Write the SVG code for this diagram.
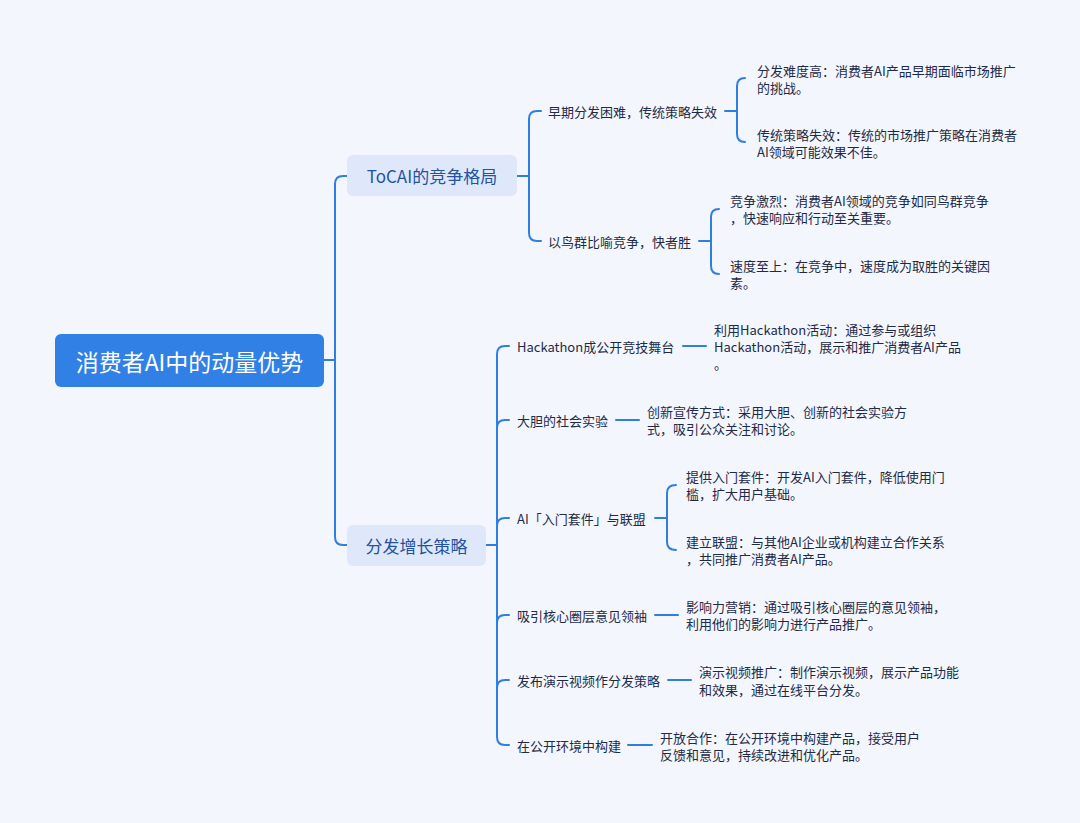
<svg xmlns="http://www.w3.org/2000/svg" width="1080" height="823" viewBox="0 0 1080 823">
<style>
.bg{fill:#f3f6fd}
.ln{fill:none;stroke:#2f7fe0;stroke-width:2;stroke-linecap:round}
.t{font-family:"Noto Sans CJK SC","Noto Sans",sans-serif;fill:#1f2b46;dominant-baseline:central}
.s2{font-size:13px}
.s3{font-size:13px}
.l1box{fill:#dfe8fb}
.l1txt{font-size:17px;fill:#2452a0;text-anchor:middle}
.rootbox{fill:#3180e6}
.roottxt{font-size:23px;fill:#ffffff;text-anchor:middle}
</style>
<rect class="bg" x="0" y="0" width="1080" height="823"/>
<g id="connectors">
<path class="ln" d="M324 360 H335"/>
<path class="ln" d="M347 176 H343 Q335 176 335 184 V537 Q335 545 343 545 H347"/>
<path class="ln" d="M517 176 H529"/>
<path class="ln" d="M541 111 H537 Q529 111 529 119 V233 Q529 241 537 241 H541"/>
<path class="ln" d="M725 111 H737"/>
<path class="ln" d="M745 78 Q737 78 737 86 V134 Q737 142 745 142"/>
<path class="ln" d="M699 241 H711"/>
<path class="ln" d="M719 209 Q711 209 711 217 V266 Q711 274 719 274"/>
<path class="ln" d="M486 545 H497"/>
<path class="ln" d="M509 346 H505 Q497 346 497 354 V737 Q497 745 505 745 H509"/>
<path class="ln" d="M497 428 Q497 420 505 420 H509"/>
<path class="ln" d="M497 526 Q497 518 505 518 H509"/>
<path class="ln" d="M497 623 Q497 615 505 615 H509"/>
<path class="ln" d="M497 688 Q497 680 505 680 H509"/>
<path class="ln" d="M683 346 H706"/>
<path class="ln" d="M616 420 H639"/>
<path class="ln" d="M655 518 H667"/>
<path class="ln" d="M676 485 Q667 485 667 493 V542 Q667 550 676 550"/>
<path class="ln" d="M655 615 H678"/>
<path class="ln" d="M668 680 H691"/>
<path class="ln" d="M628 745 H652"/>
</g>
<g id="root">
<rect class="rootbox" x="55" y="334" width="269" height="53" rx="6"/>
<text class="t roottxt" x="189.5" y="360.5">消费者AI中的动量优势</text>
</g>
<g id="n-tocai">
<rect class="l1box" x="347" y="155" width="170" height="41" rx="6"/>
<text class="t l1txt" x="432" y="175.5">ToCAI的竞争格局</text>
</g>
<g id="n-growth">
<rect class="l1box" x="347" y="525" width="139" height="41" rx="6"/>
<text class="t l1txt" x="416.5" y="545.5">分发增长策略</text>
</g>
<g id="n-early">
<text class="t s2" x="548" y="111">早期分发困难，传统策略失效</text>
</g>
<g id="n-bird">
<text class="t s2" x="548" y="241">以鸟群比喻竞争，快者胜</text>
</g>
<g id="n-early-1">
<text class="t s3" x="757" y="70">分发难度高：消费者AI产品早期面临市场推广</text>
<text class="t s3" x="757" y="87">的挑战。</text>
</g>
<g id="n-early-2">
<text class="t s3" x="757" y="134">传统策略失效：传统的市场推广策略在消费者</text>
<text class="t s3" x="757" y="151">AI领域可能效果不佳。</text>
</g>
<g id="n-bird-1">
<text class="t s3" x="730" y="200">竞争激烈：消费者AI领域的竞争如同鸟群竞争</text>
<text class="t s3" x="730" y="217">，快速响应和行动至关重要。</text>
</g>
<g id="n-bird-2">
<text class="t s3" x="730" y="265">速度至上：在竞争中，速度成为取胜的关键因</text>
<text class="t s3" x="730" y="282">素。</text>
</g>
<g id="n-hack">
<text class="t s2" x="517" y="346">Hackathon成公开竞技舞台</text>
</g>
<g id="n-hack-1">
<text class="t s3" x="714" y="329">利用Hackathon活动：通过参与或组织</text>
<text class="t s3" x="714" y="346">Hackathon活动，展示和推广消费者AI产品</text>
<text class="t s3" x="714" y="363">。</text>
</g>
<g id="n-social">
<text class="t s2" x="517" y="420">大胆的社会实验</text>
</g>
<g id="n-social-1">
<text class="t s3" x="647" y="411">创新宣传方式：采用大胆、创新的社会实验方</text>
<text class="t s3" x="647" y="428">式，吸引公众关注和讨论。</text>
</g>
<g id="n-kit">
<text class="t s2" x="517" y="518">AI「入门套件」与联盟</text>
</g>
<g id="n-kit-1">
<text class="t s3" x="686" y="476">提供入门套件：开发AI入门套件，降低使用门</text>
<text class="t s3" x="686" y="493">槛，扩大用户基础。</text>
</g>
<g id="n-kit-2">
<text class="t s3" x="686" y="541">建立联盟：与其他AI企业或机构建立合作关系</text>
<text class="t s3" x="686" y="558">，共同推广消费者AI产品。</text>
</g>
<g id="n-kol">
<text class="t s2" x="517" y="615">吸引核心圈层意见领袖</text>
</g>
<g id="n-kol-1">
<text class="t s3" x="686" y="606">影响力营销：通过吸引核心圈层的意见领袖，</text>
<text class="t s3" x="686" y="623">利用他们的影响力进行产品推广。</text>
</g>
<g id="n-video">
<text class="t s2" x="517" y="680">发布演示视频作分发策略</text>
</g>
<g id="n-video-1">
<text class="t s3" x="699" y="671">演示视频推广：制作演示视频，展示产品功能</text>
<text class="t s3" x="699" y="689">和效果，通过在线平台分发。</text>
</g>
<g id="n-open">
<text class="t s2" x="517" y="745">在公开环境中构建</text>
</g>
<g id="n-open-1">
<text class="t s3" x="660" y="737">开放合作：在公开环境中构建产品，接受用户</text>
<text class="t s3" x="660" y="754">反馈和意见，持续改进和优化产品。</text>
</g>
</svg>
